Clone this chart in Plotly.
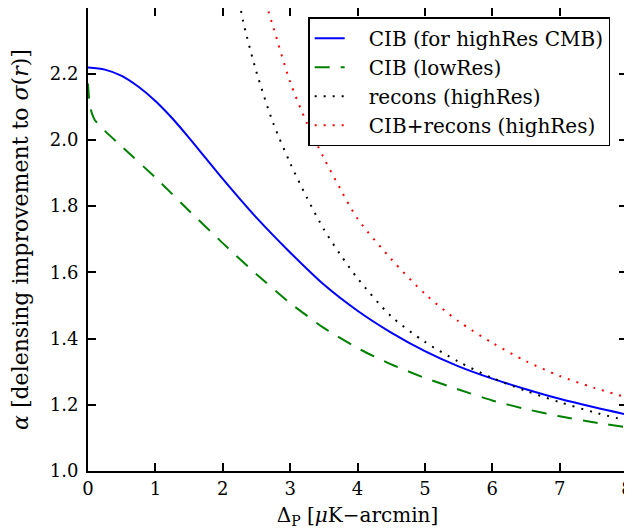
import plotly.graph_objects as go

# --- data ---
x_cib_hi = [0.0, 0.25, 0.5, 0.75, 1.0, 1.25, 1.5, 1.75, 2.0, 2.5, 3.0, 3.5, 4.0, 4.5, 5.0, 5.5, 6.0, 6.5, 7.0, 7.5, 8.0]
y_cib_hi = [2.218, 2.212, 2.193, 2.160, 2.117, 2.065, 2.006, 1.944, 1.882, 1.765, 1.660, 1.563, 1.484, 1.418, 1.362, 1.316, 1.279, 1.247, 1.218, 1.193, 1.170]

x_cib_lo = [0.0, 0.02, 0.05, 0.1, 0.25, 0.5, 1.0, 1.5, 2.0, 2.5, 3.0, 3.5, 4.0, 4.5, 5.0, 5.5, 6.0, 6.5, 7.0, 7.5, 8.0]
y_cib_lo = [2.17, 2.115, 2.085, 2.06, 2.027, 1.98, 1.886, 1.786, 1.688, 1.594, 1.507, 1.432, 1.371, 1.322, 1.281, 1.246, 1.213, 1.187, 1.165, 1.147, 1.132]

x_recons = [2.2, 2.3, 2.5, 2.75, 3.0, 3.25, 3.5, 3.75, 4.0, 4.5, 5.0, 5.5, 6.0, 6.5, 7.0, 7.5, 8.0]
y_recons = [2.47, 2.36, 2.205, 2.05, 1.93, 1.825, 1.73, 1.652, 1.582, 1.467, 1.39, 1.33, 1.281, 1.242, 1.208, 1.178, 1.152]

x_both = [2.6, 2.75, 3.0, 3.25, 3.5, 3.75, 4.0, 4.5, 5.0, 5.5, 6.0, 6.5, 7.0, 7.5, 8.0]
y_both = [2.44, 2.34, 2.175, 2.05, 1.945, 1.85, 1.762, 1.64, 1.535, 1.452, 1.387, 1.332, 1.287, 1.252, 1.222]

names = ["CIB (for highRes CMB)", "CIB (lowRes)", "recons (highRes)", "CIB+recons (highRes)"]
x_ticks = [0, 1, 2, 3, 4, 5, 6, 7, 8]
y_ticks = [1.0, 1.2, 1.4, 1.6, 1.8, 2.0, 2.2]

FONT = "DejaVu Serif"
PAD = "\u00a0\u00a0\u00a0"

fig = go.Figure()
fig.add_trace(go.Scatter(x=x_cib_hi, y=y_cib_hi, mode="lines", name=PAD + names[0], legendgroup="a",
                         line=dict(color="#0000ff", width=2, shape="spline", smoothing=0.8)))
fig.add_trace(go.Scatter(x=x_cib_lo, y=y_cib_lo, mode="lines", name=PAD + names[1], legendgroup="b",
                         line=dict(color="#008000", width=2, dash="15px,11px", shape="spline", smoothing=0.5)))
fig.add_trace(go.Scatter(x=x_recons, y=y_recons, mode="lines", name=PAD + names[2], legendgroup="c",
                         line=dict(color="#000000", width=2, dash="2px,7px", shape="spline", smoothing=0.8)))
fig.add_trace(go.Scatter(x=x_both, y=y_both, mode="lines", name=PAD + names[3], legendgroup="d",
                         line=dict(color="#ff0000", width=2, dash="2px,7px", shape="spline", smoothing=0.8)))

axis_common = dict(
    showline=True, linecolor="black", linewidth=2, mirror="allticks",
    ticks="inside", ticklen=8, tickwidth=1.5, tickcolor="black",
    showgrid=False, zeroline=False, automargin=False, ticklabeloverflow="allow",
    tickfont=dict(family=FONT, size=18, color="black"),
)

fig.update_xaxes(range=[0, 8], tickvals=x_ticks, ticktext=[str(v) for v in x_ticks],
                 title=dict(text="Δ<sub>P</sub> [<i>μ</i>K−arcmin]",
                            font=dict(family=FONT, size=20, color="black"), standoff=10),
                 **axis_common)
fig.update_yaxes(range=[1.0, 2.398], tickvals=y_ticks, ticktext=[f"{v:.1f}" for v in y_ticks],
                 ticklabelstandoff=4,
                 title=dict(text="<i>α</i> [delensing improvement to <i>σ</i>(<i>r</i>)]",
                            font=dict(family=FONT, size=22, color="black"), standoff=16),
                 **axis_common)

# the page body adds an 8px margin, so the figure is sized to fit inside the window
fig.update_layout(
    width=624, height=523,
    margin=dict(l=80, r=5, t=0, b=60),
    paper_bgcolor="white", plot_bgcolor="white",
    font=dict(family=FONT, color="black"),
    legend=dict(x=0.4085, y=0.98, xanchor="left", yanchor="top",
                bgcolor="white", bordercolor="black", borderwidth=1.5,
                font=dict(family=FONT, size=20, color="black"),
                tracegroupgap=0, itemwidth=30),
    showlegend=True,
)

fig.write_html("out.html")
